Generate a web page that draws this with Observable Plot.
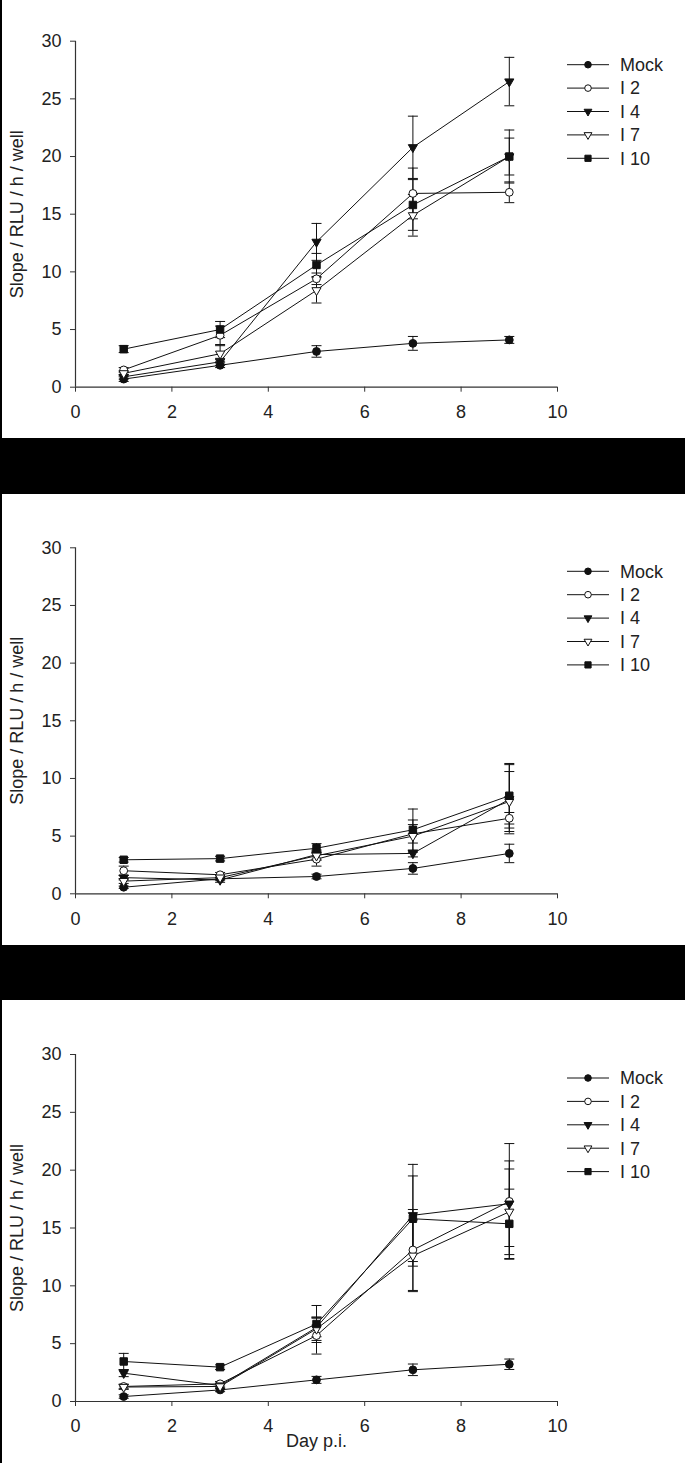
<!DOCTYPE html>
<html><head><meta charset="utf-8">
<script src="https://cdn.jsdelivr.net/npm/d3@7"></script>
<script src="https://cdn.jsdelivr.net/npm/@observablehq/plot@0.6"></script>
<style>
body{margin:0;background:#000;width:685px;}
.panel{margin-left:2px;width:683px;background:#fff;}
</style></head><body>
<div id="p1" class="panel"></div><div style="height:56px"></div>
<div id="p2" class="panel"></div><div style="height:55px"></div>
<div id="p3" class="panel"></div>
<script>
// ---- data ----
const days = [1, 3, 5, 7, 9];
const seriesNames = ["Mock", "I 2", "I 4", "I 7", "I 10"];
const xTicks = [0, 2, 4, 6, 8, 10];
const yTicks = [0, 5, 10, 15, 20, 25, 30];
const yLabel = "Slope / RLU / h / well";
const xLabel = "Day p.i.";

// Panel 1
const aMock = [0.7, 1.9, 3.1, 3.8, 4.1];
const aMockErr = [0.2, 0.2, 0.5, 0.6, 0.3];
const aI2 = [1.5, 4.5, 9.4, 16.8, 16.9];
const aI2Err = [0.2, 0.8, 0.5, 2.2, 0.9];
const aI4 = [0.9, 2.2, 12.6, 20.8, 26.5];
const aI4Err = [0.2, 0.3, 1.6, 2.7, 2.1];
const aI7 = [1.2, 2.9, 8.4, 14.9, 20.0];
const aI7Err = [0.2, 0.7, 1.1, 1.8, 1.6];
const aI10 = [3.3, 5.0, 10.6, 15.8, 20.0];
const aI10Err = [0.3, 0.7, 1.0, 2.2, 2.3];

// Panel 2
const bMock = [0.57, 1.3, 1.5, 2.2, 3.5];
const bMockErr = [0.1, 0.1, 0.2, 0.5, 0.8];
const bI2 = [2.0, 1.65, 3.0, 5.2, 6.55];
const bI2Err = [0.4, 0.2, 0.6, 0.8, 0.5];
const bI4 = [1.4, 1.2, 3.4, 3.5, 8.2];
const bI4Err = [0.2, 0.2, 0.4, 0.3, 3.0];
const bI7 = [1.1, 1.4, 3.3, 5.0, 8.0];
const bI7Err = [0.2, 0.2, 0.4, 1.4, 2.6];
const bI10 = [2.95, 3.05, 3.95, 5.55, 8.5];
const bI10Err = [0.2, 0.2, 0.4, 1.8, 2.8];

// Panel 3
const cMock = [0.43, 1.0, 1.87, 2.74, 3.22];
const cMockErr = [0.15, 0.15, 0.3, 0.5, 0.45];
const cI2 = [1.3, 1.53, 5.7, 13.1, 17.3];
const cI2Err = [0.2, 0.2, 1.6, 3.5, 5.0];
const cI4 = [2.45, 1.38, 6.4, 16.1, 17.1];
const cI4Err = [0.3, 0.2, 0.8, 4.4, 3.7];
const cI7 = [1.25, 1.3, 6.28, 12.6, 16.4];
const cI7Err = [0.2, 0.2, 1.0, 3.1, 3.7];
const cI10 = [3.46, 2.97, 6.7, 15.8, 15.36];
const cI10Err = [0.7, 0.2, 1.6, 3.7, 3.0];

// ---- styles ----
const ink = "#111";
const axisInk = "#333";
const styles = {
  "Mock": {symbol: "circle", r: 3.9, lr: 3.3, fill: ink, rotate: 0},
  "I 2": {symbol: "circle", r: 3.9, lr: 3.3, fill: "white", rotate: 0},
  "I 4": {symbol: "triangle", r: 3.4, lr: 2.9, fill: ink, rotate: 180},
  "I 7": {symbol: "triangle", r: 3.4, lr: 2.9, fill: "white", rotate: 180},
  "I 10": {symbol: "square", r: 4.2, lr: 3.5, fill: ink, rotate: 0}
};
const capSymbol = {draw(ctx, size) { const r = Math.sqrt(size / Math.PI); ctx.moveTo(-r, 0); ctx.lineTo(r, 0); }};

function makeRows(vals, errs) {
  return seriesNames.flatMap((s, i) => days.map((d, j) => ({series: s, day: d, value: vals[i][j], err: errs[i][j]})));
}

function panel(el, vals, errs, height, marginTop, marginBottom, showX) {
  const rows = makeRows(vals, errs);
  const caps = rows.flatMap(d => [{day: d.day, v: d.value - d.err}, {day: d.day, v: d.value + d.err}]);
  const marks = [
    Plot.ruleX([0], {stroke: axisInk, strokeWidth: 1.2}),
    Plot.ruleY([0], {stroke: axisInk, strokeWidth: 1.2}),
    Plot.axisY({ticks: yTicks, tickSize: 5, tickPadding: 9, label: null, stroke: axisInk}),
    Plot.axisX({ticks: xTicks, tickSize: 5, tickPadding: 13, label: null, stroke: axisInk}),
    Plot.text([yLabel], {text: d => d, frameAnchor: "left", dx: -58, rotate: -90, textAnchor: "middle", lineAnchor: "middle", fill: "#222"}),
    Plot.line(rows, {x: "day", y: "value", z: "series", stroke: ink, strokeWidth: 1}),
    Plot.ruleX(rows, {x: "day", y1: d => d.value - d.err, y2: d => d.value + d.err, stroke: ink, strokeWidth: 1}),
    Plot.dot(caps, {x: "day", y: "v", symbol: capSymbol, r: 5, stroke: ink, fill: "none", strokeWidth: 1})
  ];
  for (const s of seriesNames) {
    const st = styles[s];
    marks.push(Plot.dot(rows.filter(d => d.series === s), {x: "day", y: "value", symbol: st.symbol, r: st.r, fill: st.fill, stroke: ink, strokeWidth: 1, rotate: st.rotate}));
  }
  if (showX) {
    marks.push(Plot.text([xLabel], {text: d => d, frameAnchor: "bottom", lineAnchor: "bottom", dy: 45, fill: "#222"}));
  }
  const svg = Plot.plot({
    width: 683, height, marginLeft: 73, marginRight: 128, marginTop, marginBottom,
    x: {domain: [0, 10]},
    y: {domain: [0, 30]},
    style: {fontFamily: "'Liberation Sans', Arial, sans-serif", fontSize: "18px", color: "#222", background: "white", overflow: "visible"},
    marks
  });
  // legend
  const g = d3.select(svg).append("g").attr("text-anchor", "start");
  seriesNames.forEach((s, i) => {
    const y = marginTop + 24 + i * 23.4;
    const st = styles[s];
    g.append("line").attr("x1", 565).attr("x2", 607).attr("y1", y).attr("y2", y).attr("stroke", ink).attr("stroke-width", 1);
    const typ = st.symbol === "circle" ? d3.symbolCircle : st.symbol === "square" ? d3.symbolSquare : d3.symbolTriangle;
    g.append("path").attr("d", d3.symbol(typ, Math.PI * st.lr * st.lr)()).attr("transform", `translate(586,${y}) rotate(${st.rotate})`)
      .attr("fill", st.fill).attr("stroke", ink).attr("stroke-width", 1);
    g.append("text").attr("x", 618).attr("y", y).attr("dy", "0.35em").attr("text-anchor", "start").attr("fill", "#222").text(s);
  });
  document.getElementById(el).append(svg);
}

panel("p1", [aMock, aI2, aI4, aI7, aI10], [aMockErr, aI2Err, aI4Err, aI7Err, aI10Err], 438, 40.7, 51.3, false);
panel("p2", [bMock, bI2, bI4, bI7, bI10], [bMockErr, bI2Err, bI4Err, bI7Err, bI10Err], 451, 53.3, 51.7, false);
panel("p3", [cMock, cI2, cI4, cI7, cI10], [cMockErr, cI2Err, cI4Err, cI7Err, cI10Err], 463, 54, 62, true);
</script>
</body></html>
